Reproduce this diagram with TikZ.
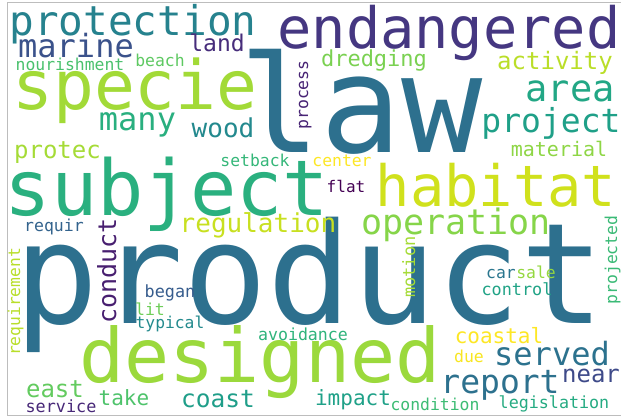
\documentclass[tikz,border=0pt]{standalone}
\usepackage{fontspec}
\newfontfamily\wcfont{DejaVu Sans Mono}
\definecolor{cprotection}{HTML}{26828E}
\definecolor{cendangered}{HTML}{453781}
\definecolor{claw}{HTML}{2D708E}
\definecolor{cspecie}{HTML}{A2DA37}
\definecolor{cmarine}{HTML}{3B528B}
\definecolor{cland}{HTML}{472D7B}
\definecolor{cnourish}{HTML}{4AC16D}
\definecolor{cbeach}{HTML}{5EC962}
\definecolor{cprocess}{HTML}{482475}
\definecolor{cdredging}{HTML}{7AD151}
\definecolor{cactivity}{HTML}{BADE28}
\definecolor{carea}{HTML}{22A785}
\definecolor{cproject}{HTML}{1FA088}
\definecolor{cmany}{HTML}{29AF7F}
\definecolor{cwood}{HTML}{23898E}
\definecolor{cprotec}{HTML}{A5DB36}
\definecolor{csubject}{HTML}{2AB07F}
\definecolor{csetback}{HTML}{35B779}
\definecolor{ccenter}{HTML}{FDE725}
\definecolor{cmaterial}{HTML}{8ED645}
\definecolor{cflat}{HTML}{440154}
\definecolor{chabitat}{HTML}{D0E11C}
\definecolor{cregulation}{HTML}{C8E020}
\definecolor{coperation}{HTML}{86D549}
\definecolor{crequir}{HTML}{33638D}
\definecolor{cconduct}{HTML}{481F70}
\definecolor{crequirement}{HTML}{B8DE29}
\definecolor{cbegan}{HTML}{365C8D}
\definecolor{clit}{HTML}{6ECE58}
\definecolor{ctypical}{HTML}{238A8D}
\definecolor{cavoidance}{HTML}{2FB47C}
\definecolor{cdesigned}{HTML}{9BD93C}
\definecolor{cmotion}{HTML}{A5DB36}
\definecolor{ccar}{HTML}{2A768E}
\definecolor{csale}{HTML}{95D840}
\definecolor{ccontrol}{HTML}{20A386}
\definecolor{cprojected}{HTML}{3ABA76}
\definecolor{ccoastal}{HTML}{FDE725}
\definecolor{cdue}{HTML}{F8E621}
\definecolor{cserved}{HTML}{2C728E}
\definecolor{cnear}{HTML}{3E4A89}
\definecolor{creport}{HTML}{2D718E}
\definecolor{ceast}{HTML}{63CB5F}
\definecolor{ctake}{HTML}{4EC36B}
\definecolor{ccoast}{HTML}{1F9E89}
\definecolor{cimpact}{HTML}{1FA188}
\definecolor{ccondition}{HTML}{3DBC74}
\definecolor{clegislation}{HTML}{25AB82}
\definecolor{cservice}{HTML}{482878}
\definecolor{frame}{HTML}{BDBDBD}
\tikzset{
  w/.style={inner sep=0pt, outer sep=0pt, anchor=base, text height=0.74em, text depth=0.22em, font=\wcfont\fontsize{#1}{#1}\selectfont},
  vw/.style={w=#1, rotate=90},
  framestyle/.style={draw=frame, line width=0.8pt}
}
\begin{document}
\begin{tikzpicture}[x=1pt,y=-1pt]
\useasboundingbox[fill=white] (0,0) rectangle (621,417);
\coordinate (f1) at (7,415);
\coordinate (f2) at (7,2);
\coordinate (f3) at (621,2);
\coordinate (f4) at (621,415);
\draw[framestyle] (f3) -- (f2) -- (f1) -- (f4);
% large words
\node[w=140, text=claw] (product) at (310,323) {product};
\node[w=135, text=claw] (law) at (361,153) {law};
\node[w=77, text=csubject] (subject) at (167,215) {subject};
\node[w=75, text=cdesigned] (designed) at (260,382) {designed};
\node[w=68, text=cspecie] (specie) at (135,110) {specie};
\node[w=57, text=cendangered] (endangered) at (449,49) {endangered};
\node[w=57, text=chabitat] (habitat) at (496,206) {habitat};
\node[w=41, text=cprotection] (protection) at (133,36) {protection};
% medium
\node[w=37, text=carea] (area) at (570,102) {area};
\node[w=35, text=coperation] (operation) at (456,234) {operation};
\node[w=33, text=cproject] (project) at (551,132) {project};
\node[w=33, text=creport] (report) at (500,393) {report};
\node[w=32, text=cmarine] (marine) at (76,58) {marine};
\node[w=32, text=cmany] (many) at (137.5,131) {many};
\node[w=32, text=cserved] (served) at (552,365) {served};
\node[w=26, text=cwood] (wood) at (223,138) {wood};
\node[w=26, text=cregulation] (regulation) at (258,232) {regulation};
\node[vw=25, text=cconduct] (conduct) at (116,271) {conduct};
\node[w=24, text=cactivity] (activity) at (555,70) {activity};
\node[w=24, text=cprotec] (protec) at (57.5,158) {protec};
\node[w=24, text=cnear] (near) at (591,382) {near};
\node[w=24, text=ceast] (east) at (55,397) {east};
\node[w=24.5, text=ccoast] (coast) at (218,407) {coast};
\node[w=23, text=cland] (land) at (217,52) {land};
\node[w=22, text=cdredging] (dredging) at (374,67) {dredging};
\node[w=21, text=ccoastal] (coastal) at (499,343) {coastal};
\node[w=21, text=ctake] (take) at (124,405) {take};
\node[w=21, text=cimpact] (impact) at (353,405) {impact};
\node[w=20, text=cmaterial] (material) at (559,157) {material};
% small
\node[w=16.4, text=cnourish] (nourishment) at (70,71) {nourishment};
\node[w=16.4, text=cbeach] (beach) at (160,67) {beach};
\node[vw=16.5, text=cprocess] (process) at (308,95) {process};
\node[w=16.4, text=csetback] (setback) at (255,167) {setback};
\node[w=16.4, text=ccenter] (center) at (342,167) {center};
\node[w=16, text=cflat] (flat) at (346,192) {flat};
\node[w=16.5, text=crequir] (requir) at (54,231) {requir};
\node[vw=16.3, text=crequirement] (requirement) at (20,302) {requirement};
\node[w=16.8, text=cbegan] (began) at (170,297) {began};
\node[w=16.5, text=clit] (lit) at (150,315) {lit};
\node[w=16.3, text=ctypical] (typical) at (170,328) {typical};
\node[w=16.6, text=cavoidance] (avoidance) at (303,340) {avoidance};
\node[vw=17, text=cmotion] (motion) at (415,267) {motion};
\node[w=16.4, text=ccar] (car) at (501,278) {car};
\node[w=16.4, text=csale] (sale) at (536,278) {sale};
\node[w=16.8, text=ccontrol] (control) at (517,295) {control};
\node[vw=16.4, text=cprojected] (projected) at (617,260) {projected};
\node[w=16.5, text=cdue] (due) at (469,362) {due};
\node[w=16.4, text=ccondition] (condition) at (435,410) {condition};
\node[w=16.7, text=clegislation] (legislation) at (554,408) {legislation};
\node[w=16.8, text=cservice] (service) at (61,412) {service};
\end{tikzpicture}
\end{document}
